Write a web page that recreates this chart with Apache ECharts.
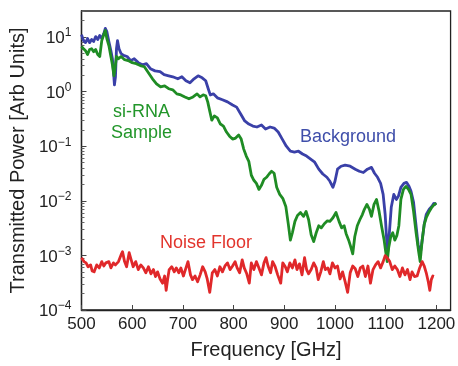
<!DOCTYPE html>
<html>
<head>
<meta charset="utf-8">
<script src="https://cdn.jsdelivr.net/npm/echarts@6/dist/echarts.min.js"></script>
<style>
  html, body { margin: 0; padding: 0; background: #fff; }
  #chart { width: 458px; height: 366px; }
</style>
</head>
<body>
<div id="chart"></div>
<script>
// values (frequency in GHz, power in arb units)
const bgFreq = [500, 504, 508, 512, 516, 520, 524, 528, 532, 536, 540, 544, 547, 550, 554, 558, 561, 563, 565, 567, 569, 571, 574, 578, 583, 590, 597, 604, 612, 620, 628, 636, 645, 655, 663, 672, 680, 690, 698, 706, 714, 722, 730, 738, 745, 750, 754, 760, 768, 778, 788, 798, 806, 814, 822, 830, 838, 846, 855, 863, 872, 880, 888, 896, 904, 912, 920, 928, 936, 944, 952, 960, 968, 976, 984, 990, 996, 1000, 1005, 1012, 1020, 1030, 1040, 1048, 1056, 1064, 1072, 1078, 1084, 1090, 1095, 1099, 1102, 1104, 1107, 1111, 1116, 1121, 1125, 1130, 1136, 1141, 1146, 1150, 1155, 1159, 1164, 1168, 1172, 1176, 1180, 1186, 1191, 1195, 1200]
const bgPower = [11.1, 8.6, 7.9, 9.4, 7.9, 9.0, 8.3, 10.2, 9.0, 10.7, 9.4, 11.6, 14.4, 12.6, 8.3, 5.6, 4.0, 2.4, 1.33, 1.87, 6.1, 8.6, 6.1, 5.0, 4.6, 4.4, 3.7, 4.0, 3.4, 3.1, 3.25, 2.63, 2.4, 2.32, 2.04, 1.95, 1.87, 1.72, 1.87, 1.58, 1.45, 1.72, 1.95, 1.79, 1.58, 1.13, 0.87, 0.91, 0.77, 0.71, 0.65, 0.57, 0.52, 0.39, 0.29, 0.255, 0.234, 0.225, 0.245, 0.207, 0.225, 0.215, 0.182, 0.135, 0.1, 0.081, 0.078, 0.081, 0.072, 0.066, 0.058, 0.051, 0.038, 0.031, 0.027, 0.0228, 0.0177, 0.0228, 0.038, 0.043, 0.045, 0.043, 0.038, 0.0348, 0.033, 0.038, 0.041, 0.032, 0.027, 0.0209, 0.0131, 0.0056, 0.0019, 0.00117, 0.0024, 0.0076, 0.0131, 0.0106, 0.0121, 0.0177, 0.0209, 0.0218, 0.0184, 0.0149, 0.0094, 0.0042, 0.00157, 0.00103, 0.0019, 0.0037, 0.0056, 0.007, 0.0079, 0.009, 0.0086]

const sampleFreq = [500, 504, 508, 512, 516, 520, 524, 528, 532, 536, 540, 544, 547, 550, 554, 558, 561, 564, 566, 569, 573, 578, 585, 592, 600, 608, 616, 624, 632, 640, 648, 656, 664, 672, 680, 688, 696, 704, 712, 720, 728, 734, 740, 745, 749, 753, 757, 762, 768, 774, 780, 786, 792, 798, 804, 810, 815, 820, 825, 830, 835, 840, 845, 850, 855, 860, 865, 870, 875, 880, 885, 891, 897, 903, 908, 912, 916, 921, 926, 932, 938, 943, 948, 953, 958, 963, 968, 973, 979, 985, 990, 996, 1002, 1008, 1013, 1018, 1022, 1027, 1031, 1035, 1039, 1044, 1049, 1054, 1058, 1063, 1068, 1072, 1077, 1082, 1087, 1092, 1097, 1100, 1103, 1106, 1110, 1114, 1118, 1122, 1126, 1130, 1135, 1140, 1145, 1150, 1155, 1160, 1165, 1168, 1172, 1176, 1180, 1186, 1191, 1196, 1200]
const samplePower = [6.7, 6.1, 5.6, 4.8, 5.9, 6.1, 5.4, 5.9, 4.8, 4.4, 8.6, 11.1, 13.2, 9.4, 7.0, 4.4, 3.1, 1.95, 2.63, 4.4, 4.0, 4.4, 3.85, 3.7, 3.4, 3.25, 3.0, 2.86, 2.22, 1.72, 1.39, 1.22, 1.28, 1.13, 1.08, 0.91, 0.87, 0.8, 0.74, 0.8, 0.91, 0.8, 0.87, 0.84, 0.65, 0.44, 0.3, 0.36, 0.33, 0.255, 0.234, 0.182, 0.153, 0.135, 0.141, 0.16, 0.135, 0.0885, 0.066, 0.053, 0.0294, 0.0238, 0.0209, 0.0162, 0.0192, 0.0248, 0.027, 0.031, 0.0348, 0.032, 0.0177, 0.0131, 0.0111, 0.0079, 0.0037, 0.0019, 0.0026, 0.0042, 0.0054, 0.0061, 0.0052, 0.0064, 0.0045, 0.0024, 0.00179, 0.0026, 0.0035, 0.0032, 0.0038, 0.0043, 0.0042, 0.0049, 0.0061, 0.0042, 0.0032, 0.0035, 0.0025, 0.0019, 0.00145, 0.00107, 0.0022, 0.0035, 0.0045, 0.0056, 0.007, 0.0086, 0.007, 0.0052, 0.0086, 0.0106, 0.0064, 0.0034, 0.0019, 0.00117, 0.00077, 0.00139, 0.0022, 0.0026, 0.0019, 0.0023, 0.0035, 0.0106, 0.0162, 0.0184, 0.0162, 0.0131, 0.0064, 0.0026, 0.00117, 0.00077, 0.0019, 0.0037, 0.0049, 0.0064, 0.0076, 0.0086, 0.009]

const noiseFreq = [500, 505, 509, 513, 518, 521, 525, 530, 535, 540, 544, 548, 554, 558, 563, 567, 573, 578, 581, 585, 589, 594, 598, 602, 607, 612, 617, 622, 627, 632, 637, 642, 646, 650, 655, 660, 664, 667, 670, 673, 678, 683, 687, 692, 696, 701, 705, 710, 715, 719, 724, 729, 734, 739, 744, 748, 753, 758, 763, 768, 773, 778, 783, 788, 793, 798, 803, 807, 812, 817, 821, 826, 831, 835, 840, 845, 850, 855, 860, 864, 868, 873, 877, 882, 887, 893, 897, 902, 906, 911, 916, 921, 925, 930, 935, 940, 944, 948, 953, 958, 963, 967, 972, 977, 981, 986, 990, 995, 1000, 1005, 1010, 1015, 1020, 1025, 1030, 1035, 1040, 1045, 1050, 1055, 1060, 1065, 1070, 1075, 1080, 1085, 1090, 1095, 1099, 1103, 1108, 1113, 1118, 1123, 1128, 1133, 1138, 1143, 1148, 1152, 1157, 1162, 1167, 1172, 1176, 1180, 1184, 1187, 1190, 1193, 1195]
const noisePower = [0.00091, 0.00077, 0.00073, 0.00062, 0.00067, 0.00052, 0.0005, 0.00067, 0.00059, 0.00077, 0.00064, 0.00073, 0.00077, 0.00059, 0.00073, 0.00067, 0.00077, 0.00102, 0.00117, 0.00077, 0.00062, 0.00112, 0.00083, 0.00062, 0.00077, 0.00055, 0.00067, 0.00059, 0.00048, 0.00062, 0.00046, 0.00055, 0.00041, 0.0005, 0.00037, 0.00031, 0.00042, 0.00023, 0.00037, 0.00055, 0.00062, 0.0005, 0.00059, 0.00048, 0.00059, 0.00042, 0.00055, 0.00077, 0.00044, 0.00036, 0.00042, 0.00033, 0.00044, 0.00062, 0.0005, 0.00037, 0.00021, 0.00048, 0.00055, 0.00042, 0.00062, 0.0005, 0.00064, 0.00073, 0.00055, 0.00064, 0.00077, 0.00059, 0.00048, 0.00083, 0.00059, 0.00046, 0.00031, 0.00073, 0.00055, 0.00077, 0.00059, 0.00044, 0.00073, 0.00091, 0.00064, 0.00048, 0.00077, 0.00062, 0.00044, 0.00031, 0.00073, 0.00062, 0.0005, 0.00073, 0.00059, 0.00083, 0.00055, 0.0007, 0.00044, 0.00091, 0.00055, 0.00046, 0.00055, 0.00073, 0.00059, 0.00036, 0.0005, 0.00077, 0.00055, 0.00059, 0.00046, 0.00073, 0.00059, 0.00064, 0.00037, 0.0005, 0.00033, 0.00021, 0.00048, 0.00064, 0.00057, 0.00041, 0.00059, 0.00064, 0.00041, 0.00064, 0.00031, 0.00055, 0.00067, 0.00077, 0.00059, 0.00077, 0.00099, 0.00091, 0.00077, 0.00055, 0.00064, 0.00055, 0.00041, 0.00059, 0.00044, 0.00055, 0.00036, 0.0005, 0.00041, 0.00042, 0.00059, 0.00077, 0.00064, 0.00048, 0.00033, 0.00023, 0.00036, 0.00042, 0.00041]

const xTicks = [500, 600, 700, 800, 900, 1000, 1100, 1200]
const yDecades = [-4, -3, -2, -1, 0, 1]

const FONT = 'Liberation Sans, Arial, Helvetica, sans-serif'
const BLUE = '#3a40a8'
const GREEN = '#1f8c24'
const RED = '#e0282a'

function pairs(xs, ys) {
  return xs.map((x, i) => [x, ys[i]])
}

// minor ticks 2..9 inside each decade
const minorTicks = []
yDecades.slice(0, -1).forEach(d => {
  for (let m = 2; m <= 9; m++) minorTicks.push(Number((m * Math.pow(10, d)).toPrecision(3)))
})
minorTicks.push(20, 30)

function powerLabel(value) {
  const e = Math.round(Math.log10(value))
  if (Math.abs(Math.log10(value) - e) > 1e-6) return ''
  const exp = e < 0 ? '\u2212' + Math.abs(e) : String(e)
  return `{b|10}{s|${exp}}`
}

const chart = echarts.init(document.getElementById('chart'), null, { renderer: 'canvas' })

const lineSeries = (name, data, color) => ({
  name,
  type: 'line',
  data,
  showSymbol: false,
  symbol: 'none',
  xAxisIndex: 0,
  yAxisIndex: 0,
  lineStyle: { color, width: 2.8, join: 'round' },
  animation: false,
})

chart.setOption({
  animation: false,
  grid: {
    left: 74, right: 6, top: 11, bottom: 56,
    show: true, borderColor: '#222', borderWidth: 1.3, backgroundColor: '#fff',
  },
  xAxis: {
    type: 'value',
    min: 500,
    max: 1228,
    interval: 100,
    name: 'Frequency [GHz]',
    nameLocation: 'middle',
    nameGap: 30,
    nameTextStyle: { fontFamily: FONT, fontSize: 20, color: '#222' },
    axisLine: { show: true, lineStyle: { color: '#222', width: 1.3 } },
    axisTick: { show: true, inside: true, length: 5, lineStyle: { color: '#444' } },
    axisLabel: {
      fontFamily: FONT, fontSize: 17, color: '#222', margin: 6,
      showMaxLabel: false,
      formatter: v => (xTicks.includes(v) ? String(v) : ''),
    },
    splitLine: { show: false },
  },
  yAxis: [{
    type: 'log',
    logBase: 10,
    min: 1e-4,
    max: 30,
    name: 'Transmitted Power [Arb Units]',
    nameLocation: 'middle',
    nameGap: 46,
    nameRotate: 90,
    nameTextStyle: { fontFamily: FONT, fontSize: 20, color: '#222' },
    axisLine: { show: true, lineStyle: { color: '#222', width: 1.3 } },
    axisTick: { show: true, inside: true, length: 5, lineStyle: { color: '#444' } },
    axisLabel: {
      margin: 10,
      showMaxLabel: false,
      formatter: powerLabel,
      rich: {
        b: { fontFamily: FONT, fontSize: 17, color: '#222', lineHeight: 20, verticalAlign: 'bottom' },
        s: { fontFamily: FONT, fontSize: 12, color: '#222', lineHeight: 12, verticalAlign: 'top' },
      },
    },
    splitLine: { show: false },
  }, {
    type: 'log',
    logBase: 10,
    min: 1e-4,
    max: 30,
    position: 'left',
    axisLine: { show: false },
    axisTick: { show: true, inside: true, length: 3, customValues: minorTicks, lineStyle: { color: '#666' } },
    axisLabel: { show: false },
    splitLine: { show: false },
  }],
  graphic: [
    { type: 'text', left: 113, top: 103, style: { text: 'si-RNA', fontFamily: FONT, fontSize: 18, fill: '#22962a' } },
    { type: 'text', left: 111, top: 124, style: { text: 'Sample', fontFamily: FONT, fontSize: 18, fill: '#22962a' } },
    { type: 'text', left: 300, top: 128, style: { text: 'Background', fontFamily: FONT, fontSize: 18, fill: '#3f4eaa' } },
    { type: 'text', left: 160, top: 234, style: { text: 'Noise Floor', fontFamily: FONT, fontSize: 18, fill: '#e2342c' } },
  ],
  series: [
    lineSeries('Background', pairs(bgFreq, bgPower), BLUE),
    lineSeries('si-RNA Sample', pairs(sampleFreq, samplePower), GREEN),
    lineSeries('Noise Floor', pairs(noiseFreq, noisePower), RED),
  ],
})
</script>
</body>
</html>
